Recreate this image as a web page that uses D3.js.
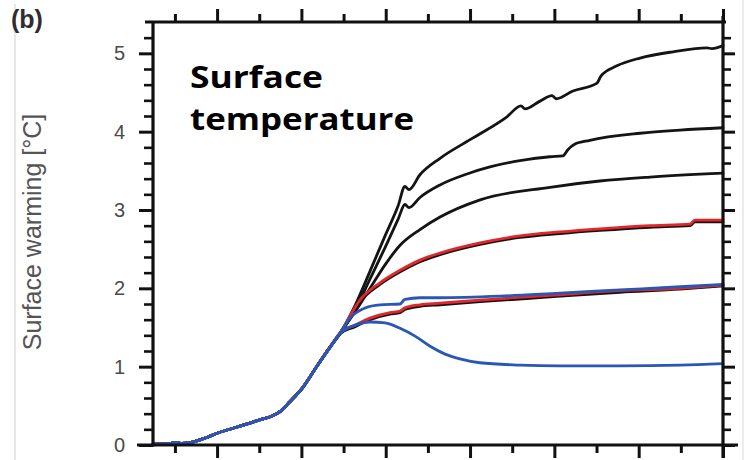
<!DOCTYPE html>
<html><head><meta charset="utf-8">
<script src="https://cdn.jsdelivr.net/npm/d3@7"></script>
<style>body{margin:0;background:#fff}</style></head>
<body><svg id="c" width="750" height="460"></svg>
<script>
// ---- data (x: year, y: surface warming °C) ----
const trunkYears = [1962, 1969, 1976, 1979, 1986, 1993, 2000, 2012, 2019.5, 2026.5, 2031.5, 2037.5, 2043, 2051, 2059, 2067];
const trunkVals  = [0.01, 0.01, 0.03, 0.02, 0.04, 0.09, 0.15, 0.23, 0.28, 0.33, 0.36, 0.43, 0.55, 0.74, 1.0, 1.25];

const aYears = [2073, 2081.8, 2090.7, 2099.6, 2107.3, 2111.4, 2113.8, 2120.3, 2132.2, 2151.8, 2171.9, 2180.2, 2182.6, 2191.5, 2198.6, 2201, 2211, 2225.3, 2227.6, 2237.1, 2250.8, 2270.4, 2290.5, 2293.5, 2300];
const aVals  = [1.43, 1.78, 2.22, 2.67, 3.05, 3.30, 3.26, 3.45, 3.66, 3.92, 4.19, 4.33, 4.29, 4.39, 4.46, 4.42, 4.52, 4.62, 4.71, 4.84, 4.94, 5.02, 5.07, 5.06, 5.10];

const bYears = [2073, 2081.8, 2090.7, 2099.6, 2107.3, 2111.4, 2113.8, 2120.3, 2132.2, 2148.2, 2161.8, 2179.6, 2197.4, 2205, 2208, 2212, 2221, 2250.8, 2274.5, 2300];
const bVals  = [1.43, 1.72, 2.12, 2.52, 2.88, 3.07, 3.03, 3.16, 3.32, 3.46, 3.55, 3.63, 3.68, 3.69, 3.77, 3.84, 3.89, 3.98, 4.02, 4.05];

const cYears = [2073, 2081.8, 2090.7, 2099.6, 2108.5, 2120.3, 2132.2, 2156, 2197.4, 2227, 2256.7, 2300];
const cVals  = [1.43, 1.70, 2.00, 2.30, 2.55, 2.75, 2.91, 3.13, 3.29, 3.37, 3.42, 3.47];

const dYears = [2073, 2084.7, 2096.6, 2108.5, 2120.3, 2132.2, 2156, 2179.6, 2203.3, 2227, 2256.7, 2280.4, 2283.4, 2300];
const dVals  = [1.42, 1.83, 2.05, 2.21, 2.34, 2.43, 2.56, 2.65, 2.70, 2.74, 2.78, 2.80, 2.85, 2.85];

const eYears = [2073, 2084.7, 2096.6, 2108.5, 2120.3, 2132.2, 2156, 2179.6, 2203.3, 2227, 2256.7, 2280.4, 2283.4, 2300];
const eVals  = [1.43, 1.85, 2.07, 2.23, 2.36, 2.45, 2.58, 2.67, 2.72, 2.76, 2.80, 2.82, 2.87, 2.87];

const fYears = [2073, 2081.8, 2090.7, 2102.5, 2108.5, 2111.4, 2120.3, 2132.2, 2156, 2197.4, 2238.8, 2274.5, 2300];
const fVals  = [1.42, 1.51, 1.60, 1.67, 1.69, 1.73, 1.77, 1.79, 1.83, 1.89, 1.95, 1.99, 2.03];

const gYears = [2073, 2081.8, 2090.7, 2102.5, 2108.5, 2111.4, 2120.3, 2132.2, 2156, 2197.4, 2238.8, 2274.5, 2300];
const gVals  = [1.43, 1.53, 1.62, 1.69, 1.71, 1.75, 1.79, 1.81, 1.85, 1.91, 1.97, 2.00, 2.04];

const hYears = [2073, 2078.8, 2087.7, 2096.6, 2108.5, 2111.4, 2120.3, 2132.2, 2167.8, 2203.3, 2238.8, 2274.5, 2300];
const hVals  = [1.43, 1.62, 1.75, 1.79, 1.80, 1.86, 1.88, 1.88, 1.90, 1.94, 1.98, 2.02, 2.05];

const iYears = [2073, 2081.8, 2090.7, 2099.6, 2108.5, 2117.4, 2126.3, 2135.2, 2144, 2155.9, 2179.6, 2203.3, 2238.8, 2274.5, 2300];
const iVals  = [1.43, 1.53, 1.57, 1.56, 1.49, 1.39, 1.26, 1.16, 1.10, 1.05, 1.02, 1.01, 1.01, 1.02, 1.04];

const yMajorTicks = [0, 1, 2, 3, 4, 5];
const yMinorTicks = [0.2,0.4,0.6,0.8,1.2,1.4,1.6,1.8,2.2,2.4,2.6,2.8,3.2,3.4,3.6,3.8,4.2,4.4,4.6,4.8,5.2];
const xMajorTicks = [2000, 2050, 2100, 2150, 2200, 2250, 2300];
const xMinorTicks = [1975, 2025, 2075, 2125, 2175, 2225, 2275];

const COLORS = {black: "#141414", red: "#e3262b", blue: "#2857b5"};

// ---- layout ----
const svg = d3.select("#c");
const L = 153, R = 723, T = 22, B = 445;
const x = d3.scaleLinear().domain([1962, 2300]).range([L, R]);
const y = d3.scaleLinear().domain([0, 5.4]).range([B, T]);

// border artifacts
svg.append("line").attr("x1",15).attr("x2",15).attr("y1",4).attr("y2",460).attr("stroke","#cfcfcf").attr("stroke-width",1);
svg.append("line").attr("x1",743).attr("x2",743).attr("y1",0).attr("y2",460).attr("stroke","#d8d8d8").attr("stroke-width",1);

// ---- series ----
const mk = (ys, vs) => trunkYears.map((t,k)=>[t, trunkVals[k]]).concat(ys.map((t,k)=>[t, vs[k]]));
const series = [
  {pts: mk(dYears,dVals), c: COLORS.black},
  {pts: mk(fYears,fVals), c: COLORS.black},
  {pts: mk(aYears,aVals), c: COLORS.black},
  {pts: mk(bYears,bVals), c: COLORS.black},
  {pts: mk(cYears,cVals), c: COLORS.black},
  {pts: mk(eYears,eVals), c: COLORS.red},
  {pts: mk(gYears,gVals), c: COLORS.red},
  {pts: mk(hYears,hVals), c: COLORS.blue},
  {pts: mk(iYears,iVals), c: COLORS.blue}
];
const line = d3.line().x(d=>x(d[0])).y(d=>y(d[1])).curve(d3.curveMonotoneX);
svg.append("g").selectAll("path").data(series).join("path")
  .attr("d", d=>line(d.pts)).attr("fill","none")
  .attr("stroke", d=>d.c).attr("stroke-width", 2.8)
  .attr("stroke-linejoin","round").attr("stroke-linecap","round");

// ---- axes ----
function styleAxis(g, w){
  g.select(".domain").remove();
  g.selectAll(".tick line").attr("stroke","#111").attr("stroke-width", w);
}
const gx = svg.append("g");
gx.append("g").attr("transform",`translate(0,${B})`).call(d3.axisBottom(x).tickValues(xMajorTicks).tickSize(13).tickFormat("")).call(g=>styleAxis(g,3));
gx.append("g").attr("transform",`translate(0,${B})`).call(d3.axisBottom(x).tickValues(xMinorTicks).tickSize(8).tickFormat("")).call(g=>styleAxis(g,3));
gx.append("g").attr("transform",`translate(0,${T})`).call(d3.axisTop(x).tickValues(xMajorTicks).tickSize(13).tickFormat("")).call(g=>styleAxis(g,3));
gx.append("g").attr("transform",`translate(0,${T})`).call(d3.axisTop(x).tickValues(xMinorTicks).tickSize(8).tickFormat("")).call(g=>styleAxis(g,3));

const gy = svg.append("g");
gy.append("g").attr("transform",`translate(${L},0)`).call(d3.axisLeft(y).tickValues(yMajorTicks).tickSize(14).tickPadding(14).tickFormat(d3.format("d")))
  .call(g=>{styleAxis(g,3); g.selectAll("text").attr("fill","#4a4a4a").style("font-family","Liberation Sans, Arial, sans-serif").style("font-size","20px");});
gy.append("g").attr("transform",`translate(${L},0)`).call(d3.axisLeft(y).tickValues(yMinorTicks).tickSize(9).tickFormat("")).call(g=>styleAxis(g,2.6));
gy.append("g").attr("transform",`translate(${R},0)`).call(d3.axisRight(y).tickValues(yMajorTicks).tickSize(12).tickFormat("")).call(g=>styleAxis(g,3));
gy.append("g").attr("transform",`translate(${R},0)`).call(d3.axisRight(y).tickValues(yMinorTicks).tickSize(8).tickFormat("")).call(g=>styleAxis(g,2.6));

// frame lines (slightly extended like the original)
const frame = svg.append("g").attr("stroke","#111").attr("stroke-width",3.2).attr("stroke-linecap","butt");
frame.append("line").attr("x1",L).attr("x2",L).attr("y1",T-1).attr("y2",B+1.5);
frame.append("line").attr("x1",R).attr("x2",R).attr("y1",T-6).attr("y2",B+13);
frame.append("line").attr("x1",L-8).attr("x2",R+3).attr("y1",T).attr("y2",T);
frame.append("line").attr("x1",L-16).attr("x2",R+15).attr("y1",B).attr("y2",B);

// ---- texts ----
svg.append("text").attr("x",11).attr("y",28).text("(b)")
  .attr("fill","#2e2e2e").style("font-family","Liberation Sans, Arial, sans-serif").style("font-weight","bold").style("font-size","25px");
svg.append("text").attr("transform","translate(41,232) rotate(-90)").attr("text-anchor","middle")
  .text("Surface warming [°C]").attr("fill","#555").style("font-family","Liberation Sans, Arial, sans-serif").style("font-size","25px");
const titleStyle = t => t.attr("fill","#000").style("font-family","Open Sans, sans-serif").style("font-weight","bold").style("font-size","30px").attr("lengthAdjust","spacingAndGlyphs");
svg.append("text").attr("x",190).attr("y",88).attr("textLength",133).text("Surface").call(titleStyle);
svg.append("text").attr("x",190).attr("y",130).attr("textLength",224).text("temperature").call(titleStyle);
</script></body></html>
